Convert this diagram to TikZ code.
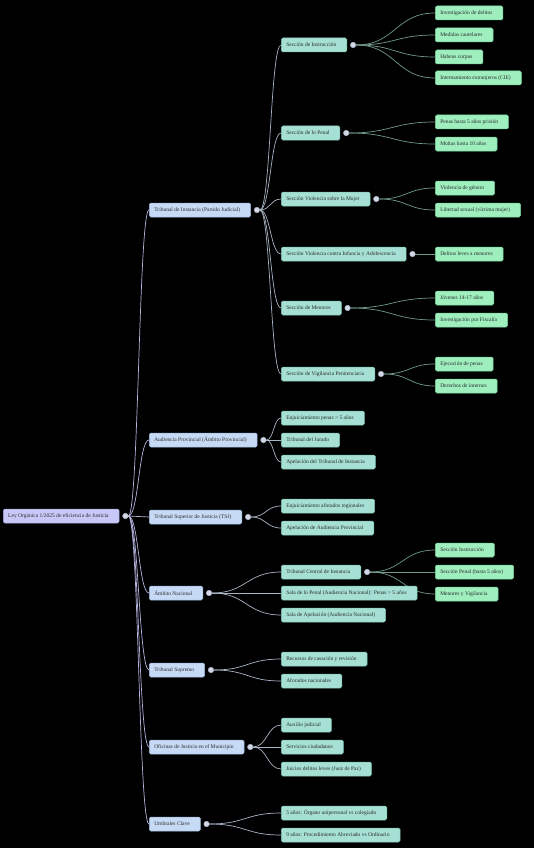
\documentclass[tikz,border=0pt]{standalone}
\usepackage{fontspec}
\setmainfont{Liberation Serif}
\usetikzlibrary{calc,backgrounds}

\definecolor{rootfill}{HTML}{C8C8F8}
\definecolor{rootline}{HTML}{A4A4DC}
\definecolor{lonefill}{HTML}{C6DAF5}
\definecolor{loneline}{HTML}{9CB6DA}
\definecolor{ltwofill}{HTML}{A6E0D4}
\definecolor{ltwoline}{HTML}{7EC2B2}
\definecolor{lthreefill}{HTML}{9EEEBE}
\definecolor{lthreeline}{HTML}{76D29A}
\definecolor{edgeroot}{HTML}{B4B4DE}
\definecolor{edgegrey}{HTML}{A8B4C4}
\definecolor{edgegreen}{HTML}{6F9A8C}
\definecolor{dotfill}{HTML}{D4D8E6}
\definecolor{txt}{HTML}{2A2A2A}

\tikzset{
  box/.style={rounded corners=1.5pt, anchor=west, minimum height=14pt, inner xsep=5pt,
    inner ysep=0pt, text=txt, font=\fontsize{5.5}{6.5}\selectfont, line width=0.5pt,
    execute at end node={\hspace*{5.5pt}}},
  rootbox/.style={box, fill=rootfill, draw=rootline},
  lonebox/.style={box, fill=lonefill, draw=loneline},
  ltwobox/.style={box, fill=ltwofill, draw=ltwoline},
  lthreebox/.style={box, fill=lthreefill, draw=lthreeline},
  dot/.style={circle, minimum size=5.5pt, inner sep=0pt, fill=dotfill, draw=edgegrey, line width=0.5pt},
  edgeroot/.style={draw=edgeroot, line width=0.7pt},
  edgeone/.style={draw=edgegrey, line width=0.7pt},
  edgetwo/.style={draw=edgegreen, line width=0.7pt}
}

\begin{document}
\begin{tikzpicture}[x=1pt, y=-1pt]
    \useasboundingbox (0,0) rectangle (534,848);

    % root
    \node[rootbox] (root) at (3,516) {Ley Orgánica 1/2025 de eficiencia de Justicia};

    % first level
    \node[lonebox] (t1) at (149,210) {Tribunal de Instancia (Partido Judicial)};
    \node[lonebox] (t2) at (149,440) {Audiencia Provincial (Ámbito Provincial)};
    \node[lonebox] (t3) at (149,517) {Tribunal Superior de Justicia (TSJ)};
    \node[lonebox] (t4) at (149,593) {Ámbito Nacional};
    \node[lonebox] (t5) at (149,670) {Tribunal Supremo};
    \node[lonebox] (t6) at (149,747) {Oficinas de Justicia en el Municipio};
    \node[lonebox] (t7) at (149,824) {Umbrales Clave};

    % second level
    \node[ltwobox] (s1) at (281,45)  {Sección de Instrucción};
    \node[ltwobox] (s2) at (281,133) {Sección de lo Penal};
    \node[ltwobox] (s3) at (281,199) {Sección Violencia sobre la Mujer};
    \node[ltwobox] (s4) at (281,254) {Sección Violencia contra Infancia y Adolescencia};
    \node[ltwobox] (s5) at (281,308) {Sección de Menores};
    \node[ltwobox] (s6) at (281,374) {Sección de Vigilancia Penitenciaria};
    \node[ltwobox] (a1) at (281,418) {Enjuiciamiento penas > 5 años};
    \node[ltwobox] (a2) at (281,440) {Tribunal del Jurado};
    \node[ltwobox] (a3) at (281,462) {Apelación del Tribunal de Instancia};
    \node[ltwobox] (j1) at (281,506) {Enjuiciamiento aforados regionales};
    \node[ltwobox] (j2) at (281,528) {Apelación de Audiencia Provincial};
    \node[ltwobox] (n1) at (281,572) {Tribunal Central de Instancia};
    \node[ltwobox] (n2) at (281,593) {Sala de lo Penal (Audiencia Nacional): Penas > 5 años};
    \node[ltwobox] (n3) at (281,615) {Sala de Apelación (Audiencia Nacional)};
    \node[ltwobox] (u1) at (281,659) {Recursos de casación y revisión};
    \node[ltwobox] (u2) at (281,681) {Aforados nacionales};
    \node[ltwobox] (o1) at (281,725) {Auxilio judicial};
    \node[ltwobox] (o2) at (281,747) {Servicios ciudadanos};
    \node[ltwobox] (o3) at (281,769) {Juicios delitos leves (Juez de Paz)};
    \node[ltwobox] (k1) at (281,813) {5 años: Órgano unipersonal vs colegiado};
    \node[ltwobox] (k2) at (281,835) {9 años: Procedimiento Abreviado vs Ordinario};

    % third level
    \node[lthreebox] (i1) at (435,13)  {Investigación de delitos};
    \node[lthreebox] (i2) at (435,35)  {Medidas cautelares};
    \node[lthreebox] (i3) at (435,57)  {Habeas corpus};
    \node[lthreebox] (i4) at (435,78)  {Internamiento extranjeros (CIE)};
    \node[lthreebox] (p1) at (435,122) {Penas hasta 5 años prisión};
    \node[lthreebox] (p2) at (435,144) {Multas hasta 10 años};
    \node[lthreebox] (m1) at (435,188) {Violencia de género};
    \node[lthreebox] (m2) at (435,210) {Libertad sexual (víctima mujer)};
    \node[lthreebox] (f1) at (435,254) {Delitos leves a menores};
    \node[lthreebox] (e1) at (435,298) {Jóvenes 14-17 años};
    \node[lthreebox] (e2) at (435,320) {Investigación por Fiscalía};
    \node[lthreebox] (v1) at (435,364) {Ejecución de penas};
    \node[lthreebox] (v2) at (435,386) {Derechos de internos};
    \node[lthreebox] (c1) at (435,550) {Sección Instrucción};
    \node[lthreebox] (c2) at (435,572) {Sección Penal (hasta 5 años)};
    \node[lthreebox] (c3) at (435,594) {Menores y Vigilancia};

    % fold markers
    \foreach \n in {root,t1,t2,t3,t4,t5,t6,t7,s1,s2,s3,s4,s5,s6,n1}
        \node[dot] (\n-d) at ([xshift=6pt]\n.east) {};

    \begin{pgfonlayer}{background}
    \fill[black] (0,0) rectangle (534,848);

    % connectors
    \foreach \b in {t1,t2,t3,t4,t5,t6,t7}
        \draw[edgeroot] let \p1=(root-d.east), \p2=(\b.west), \n1={(\x2-\x1)/2} in
            (\p1) .. controls +(\n1,0) and +(-\n1,0) .. (\p2);

    \foreach \a/\b in {t1/s1,t1/s2,t1/s3,t1/s4,t1/s5,t1/s6,t2/a1,t2/a2,t2/a3,
                       t3/j1,t3/j2,t4/n1,t4/n2,t4/n3,t5/u1,t5/u2,t6/o1,t6/o2,t6/o3,t7/k1,t7/k2}
        \draw[edgeone] let \p1=(\a-d.east), \p2=(\b.west), \n1={(\x2-\x1)/2} in
            (\p1) .. controls +(\n1,0) and +(-\n1,0) .. (\p2);

    \foreach \a/\b in {s1/i1,s1/i2,s1/i3,s1/i4,s2/p1,s2/p2,s3/m1,s3/m2,s4/f1,
                       s5/e1,s5/e2,s6/v1,s6/v2,n1/c1,n1/c2,n1/c3}
        \draw[edgetwo] let \p1=(\a-d.east), \p2=(\b.west), \n1={(\x2-\x1)/2} in
            (\p1) .. controls +(\n1,0) and +(-\n1,0) .. (\p2);
    \end{pgfonlayer}
\end{tikzpicture}
\end{document}
